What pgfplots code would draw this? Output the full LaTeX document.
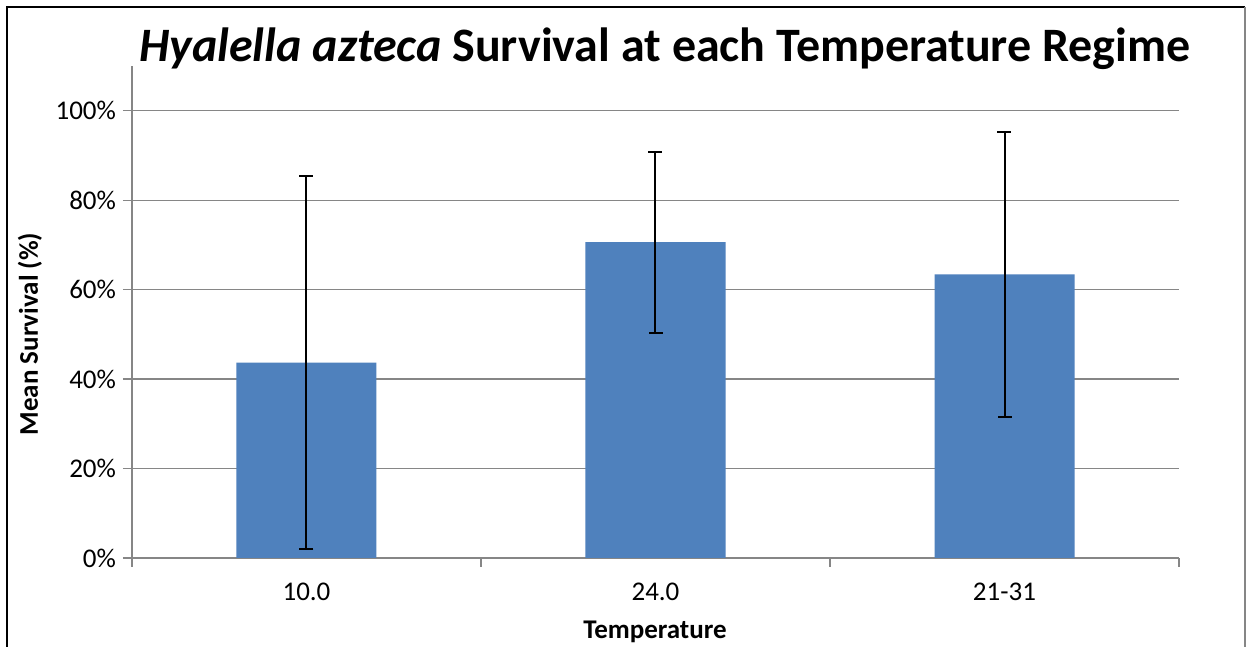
\documentclass[border=0pt]{standalone}
\usepackage{fontspec}
\setmainfont{Carlito}
\usepackage{pgfplots}
\pgfplotsset{compat=1.18}
\definecolor{barblue}{HTML}{4F81BD}
\definecolor{axgray}{HTML}{868686}

\begin{document}
\begin{tikzpicture}[x=1pt,y=1pt]
  % page area (1 px of the reference = 0.5pt), origin at the 0% / left axis corner
  \clip (-66,-44.5) rectangle (561.5,279);
  \fill[white] (-66,-44.5) rectangle (561.5,279);
  \draw[black, line width=1.2pt] (-62.5,-60) -- (-62.5,275.5) -- (556.5,275.5);
  \draw[axgray, line width=0.6pt] (556.5,275.5) -- (556.5,-60);
  \begin{axis}[
    ybar,
    scale only axis,
    width=523.5pt, height=246pt,
    xmin=0, xmax=3, ymin=0, ymax=110,
    axis x line*=bottom, axis y line*=left,
    axis line style={axgray, line width=0.6pt},
    ytick={0,20,...,100},
    yticklabel={\pgfmathprintnumber{\tick}\%},
    ymajorgrids,
    grid style={axgray, line width=0.6pt},
    xtick={0,1,2,3}, xticklabels={},
    extra x ticks={0.5,1.5,2.5},
    extra x tick labels={10.0,24.0,21-31},
    extra x tick style={major tick length=0pt, grid=none},
    xticklabel style={yshift=-9pt},
    tick style={axgray, line width=0.6pt},
    tick align=outside,
    major tick length=4.5pt,
    tick label style={font=\fontsize{13.5}{16}\selectfont},
    /pgf/number format/assume math mode=true,
  ]
    \addplot[ybar, bar width=70pt, fill=barblue, draw=none,
      error bars/.cd, y dir=both, y explicit,
      error bar style={black, line width=1pt},
      error mark options={rotate=90, mark size=3.5pt, black, line width=1pt}]
      coordinates {
        (0.5,43.7) +- (0,41.8)
        (1.5,70.6) +- (0,20.2)
        (2.5,63.4) +- (0,31.9)
      };
  \end{axis}
  \node[font=\fontsize{24}{28}\selectfont\bfseries] at (266.5,254.5)
    {\textit{Hyalella azteca} Survival at each Temperature Regime};
  \node[rotate=90, font=\fontsize{13.5}{16}\selectfont\bfseries] at (-51,112)
    {Mean Survival (\%)};
  \node[font=\fontsize{13.5}{16}\selectfont\bfseries] at (261.5,-37)
    {Temperature};
\end{tikzpicture}
\end{document}
